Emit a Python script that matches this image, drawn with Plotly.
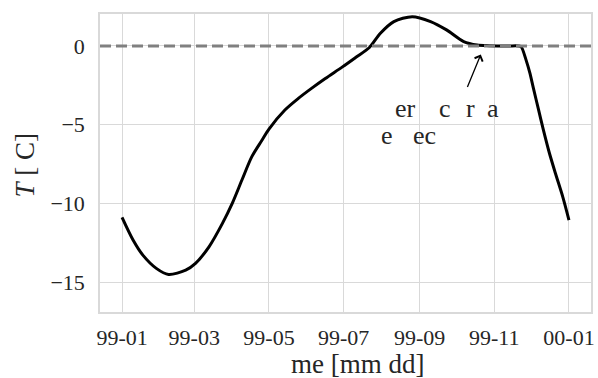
import plotly.graph_objects as go

# Daily-mean ground temperature, sampled at irregular dates
dates = [
    "1999-01-01", "1999-01-10", "1999-01-18", "1999-01-29", "1999-02-08",
    "1999-02-22", "1999-03-02", "1999-03-13", "1999-03-24", "1999-04-01",
    "1999-04-09", "1999-04-17", "1999-04-25", "1999-05-01", "1999-05-14",
    "1999-05-25", "1999-06-05", "1999-06-16", "1999-06-30", "1999-07-11",
    "1999-07-22", "1999-07-31", "1999-08-11", "1999-08-26", "1999-09-10",
    "1999-09-23", "1999-10-07", "1999-10-18", "1999-10-28", "1999-11-12",
    "1999-11-21", "1999-11-23", "1999-11-27", "1999-11-30", "1999-12-03",
    "1999-12-07", "1999-12-11", "1999-12-16", "1999-12-21", "1999-12-27",
    "2000-01-01",
]
temps = [
    -10.89, -12.33, -13.29, -14.13, -14.52,
    -14.24, -13.81, -12.76, -11.27, -10.0,
    -8.5, -7.03, -6.02, -5.28, -4.07,
    -3.33, -2.68, -2.07, -1.33, -0.72,
    -0.1, 0.81, 1.55, 1.86, 1.55,
    1.02, 0.28, 0.06, 0.02, 0.0,
    0.0, -0.05, -0.9, -1.7, -2.7,
    -4.0, -5.3, -6.8, -8.1, -9.6,
    -11.06,
]

x_tick_vals = ["1999-01-01", "1999-03-01", "1999-05-01", "1999-07-01",
               "1999-09-01", "1999-11-01", "2000-01-01"]
x_tick_text = ["99-01", "99-03", "99-05", "99-07", "99-09", "99-11", "00-01"]
y_tick_vals = [0, -5, -10, -15]
y_tick_text = ["0", "\u22125", "\u221210", "\u221215"]

FONT = "Liberation Serif, Times New Roman, serif"
TEXT = "#262626"
GRID = "#d9d9d9"

# plot-area box in pixels, used to place free text
L, R, T, B = 100, 595, 14, 312


def px(x):
    return (x - L) / (R - L)


def py(y):
    return 1 - (y - T) / (B - T)


fig = go.Figure()
fig.add_trace(go.Scatter(
    x=dates, y=temps, mode="lines",
    line=dict(color="black", width=3, shape="spline", smoothing=0.8),
    showlegend=False, hoverinfo="skip",
))

# freezing point reference line
fig.add_shape(type="line", xref="paper", x0=0, x1=1, yref="y", y0=0, y1=0,
              line=dict(color="#808080", width=3, dash="11px,5px"), layer="above")

# arrow to the zero-curtain plateau
fig.add_annotation(x="1999-10-21", y=-0.55, xref="x", yref="y",
                   ax=-14, ay=34, axref="pixel", ayref="pixel",
                   text="", showarrow=True, arrowhead=4, arrowsize=1.3,
                   arrowwidth=1.3, arrowcolor="black")

label_font = dict(family=FONT, size=26, color=TEXT)
label_pieces = [
    ("er", 395, 108), ("c", 440, 108), ("r", 467, 108), ("a", 488.5, 108),
    ("e", 381.5, 135), ("ec", 413.5, 135),
]
for txt, lx, cy in label_pieces:
    fig.add_annotation(xref="paper", yref="paper", x=px(lx), y=py(cy),
                       text=txt, showarrow=False, font=label_font,
                       xanchor="left", yanchor="middle")

# axis titles
fig.add_annotation(xref="paper", yref="paper", x=px(360), y=py(364),
                   text="me [mm dd]", showarrow=False,
                   font=dict(family=FONT, size=27, color=TEXT),
                   xanchor="center", yanchor="middle")
fig.add_annotation(xref="paper", yref="paper", x=px(24), y=py(165),
                   text="<i>T</i> [\u00a0C]", showarrow=False, textangle=-90,
                   font=dict(family=FONT, size=27, color=TEXT),
                   xanchor="center", yanchor="middle")

fig.update_xaxes(
    type="date", range=["1998-12-14", "2000-01-19"],
    tickvals=x_tick_vals, ticktext=x_tick_text,
    showgrid=True, gridcolor=GRID, gridwidth=1,
    showline=True, linecolor=GRID, linewidth=1.5, mirror=True,
    ticks="", ticklabelstandoff=5,
    tickfont=dict(family=FONT, size=22, color=TEXT), zeroline=False,
)
fig.update_yaxes(
    range=[-16.9, 2.03],
    tickvals=y_tick_vals, ticktext=y_tick_text,
    showgrid=True, gridcolor=GRID, gridwidth=1,
    showline=True, linecolor=GRID, linewidth=1.5, mirror=True,
    ticks="", ticklabelstandoff=9,
    tickfont=dict(family=FONT, size=22, color=TEXT), zeroline=False,
)

fig.update_layout(
    width=598, height=378,
    margin=dict(l=L, r=598 - R, t=T, b=378 - B),
    plot_bgcolor="white", paper_bgcolor="white",
    showlegend=False,
)

fig.write_html("out.html")
